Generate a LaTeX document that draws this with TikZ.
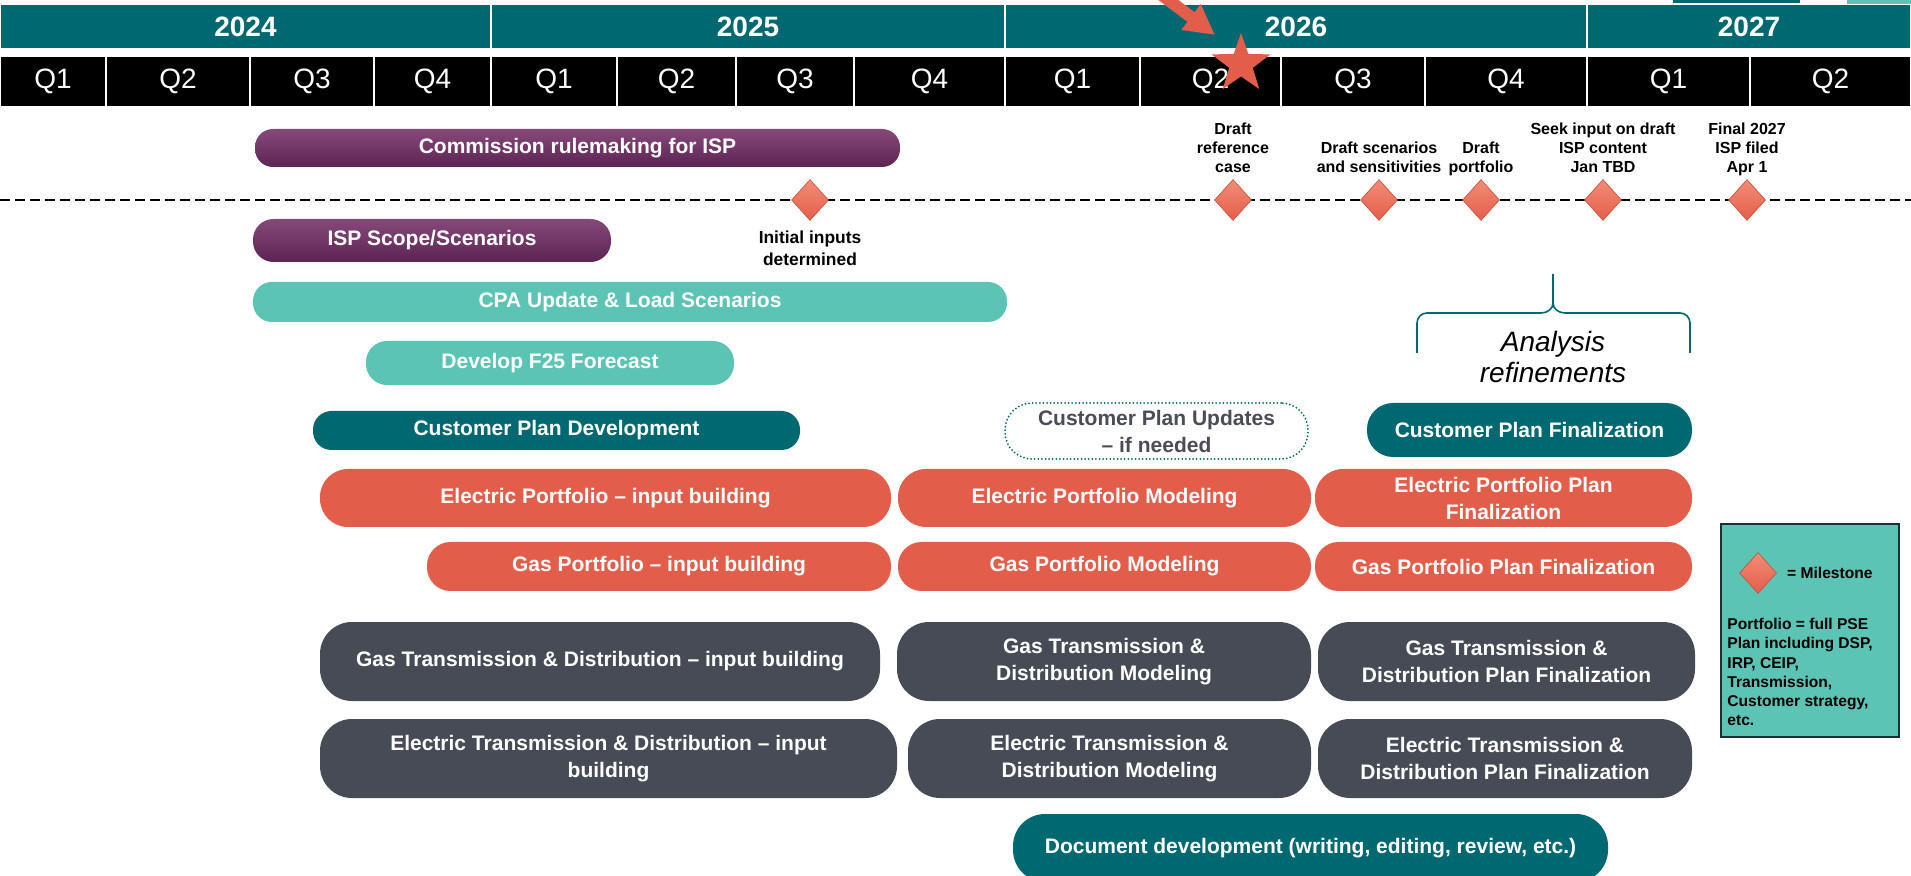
\documentclass[tikz,border=0pt]{standalone}
\usepackage{fontspec}
\setmainfont{Liberation Sans}
\usetikzlibrary{positioning,shapes.geometric,arrows.meta}

\definecolor{pseteal}{RGB}{0,104,113}
\definecolor{psepurple}{RGB}{92,35,82}
\definecolor{psepurplelt}{RGB}{134,74,122}
\definecolor{psemint}{RGB}{91,196,180}
\definecolor{psecoral}{RGB}{227,94,74}
\definecolor{mslight}{RGB}{243,140,118}
\definecolor{psegray}{RGB}{71,75,86}
\definecolor{psetext}{RGB}{74,77,87}
\definecolor{legendline}{RGB}{22,50,55}

\newcommand\unitpx{0.5pt}
\newcommand\barfnt{\bfseries\fontsize{10.5}{13.5}\selectfont}

\begin{document}
\begin{tikzpicture}[x=0.5pt, y=-0.5pt,
  yearcell/.style = {draw=white, line width=1pt, fill=pseteal, text=white, font=\bfseries\fontsize{14}{16}\selectfont, minimum height=45*\unitpx, inner sep=0pt},
  qcell/.style = {draw=white, line width=1pt, fill=black, text=white, font=\fontsize{14}{16}\selectfont, minimum height=51*\unitpx, inner sep=0pt},
  bar/.style 2 args = {minimum width=#1*\unitpx, minimum height=#2*\unitpx, rounded corners={min(#2/2-1,32)*\unitpx}, text=white, font=\barfnt, align=center, inner sep=0pt},
  purplebar/.style = {top color=psepurplelt, middle color=psepurple, bottom color=psepurple},
  mintbar/.style = {fill=psemint},
  tealbar/.style = {fill=pseteal},
  coralbar/.style = {fill=psecoral},
  graybar/.style = {fill=psegray},
  updbar/.style = {draw=pseteal, line width=1pt, dash pattern=on 0pt off 1.8pt, line cap=round, fill=white, text=psetext},
  timeline/.style = {line width=1.3pt, dash pattern=on 5pt off 2.5pt},
  milestone/.style = {diamond, minimum width=37*\unitpx, minimum height=41*\unitpx, inner sep=0pt, top color=mslight, bottom color=psecoral, draw=psecoral!85!black, line width=0.3pt},
  msnote/.style = {font=\bfseries\fontsize{8}{9.5}\selectfont, align=center, inner sep=0pt, text depth=0pt},
  legendbox/.style = {draw=legendline, line width=1.2pt, fill=psemint, inner sep=0pt},
  legendtxt/.style = {font=\bfseries\fontsize{7.8}{9.6}\selectfont, inner sep=0pt},
  pointer/.style = {psecoral, line width=6pt, -{Triangle[length=15pt, width=15pt]}}]

\path[use as bounding box, fill=white] (0,0) rectangle (1911,876);

% years and quarters
\node[yearcell, minimum width=491*\unitpx] (y2024) at (245.5,26.5) {2024};
\node[yearcell, minimum width=514*\unitpx] (y2025) at (748,26.5) {2025};
\node[yearcell, minimum width=582*\unitpx] (y2026) at (1296,26.5) {2026};
\node[yearcell, minimum width=324*\unitpx] (y2027) at (1749,26.5) {2027};

\node[qcell, minimum width=106*\unitpx] (q1a) at (53,81.5) {Q1};
\node[qcell, minimum width=144*\unitpx] (q2a) at (178,81.5) {Q2};
\node[qcell, minimum width=124*\unitpx] (q3a) at (312,81.5) {Q3};
\node[qcell, minimum width=117*\unitpx] (q4a) at (432.5,81.5) {Q4};
\node[qcell, minimum width=126*\unitpx] (q1b) at (554,81.5) {Q1};
\node[qcell, minimum width=119*\unitpx] (q2b) at (676.5,81.5) {Q2};
\node[qcell, minimum width=118*\unitpx] (q3b) at (795,81.5) {Q3};
\node[qcell, minimum width=151*\unitpx] (q4b) at (929.5,81.5) {Q4};
\node[qcell, minimum width=135*\unitpx] (q1c) at (1072.5,81.5) {Q1};
\node[qcell, minimum width=141*\unitpx] (q2c) at (1210.5,81.5) {Q2};
\node[qcell, minimum width=144*\unitpx] (q3c) at (1353,81.5) {Q3};
\node[qcell, minimum width=162*\unitpx] (q4c) at (1506,81.5) {Q4};
\node[qcell, minimum width=163*\unitpx] (q1d) at (1668.5,81.5) {Q1};
\node[qcell, minimum width=161*\unitpx] (q2d) at (1830.5,81.5) {Q2};

\fill[pseteal] (1673,0) rectangle (1800,3);
\fill[psemint] (1847,0) rectangle (1911,4);

% milestone line
\coordinate (tlstart) at (0,200);
\coordinate (tlend) at (1911,200);
\draw[timeline] (tlstart) -- (tlend);

\node[milestone] (m1) at (810,200) {};
\node[milestone] (m2) at (1233,200) {};
\node[milestone] (m3) at (1379,200) {};
\node[milestone] (m4) at (1481,200) {};
\node[milestone] (m5) at (1603,200) {};
\node[milestone] (m6) at (1747,200) {};

\node[msnote, below=5pt of m1, font=\bfseries\fontsize{8.7}{11}\selectfont] (m1txt) {Initial inputs\\determined};
\node[msnote, above=3pt of m2] (m2txt) {Draft\\reference\\case};
\node[msnote, above=3pt of m3] (m3txt) {Draft scenarios\\and sensitivities};
\node[msnote, above=3pt of m4] (m4txt) {Draft\\portfolio};
\node[msnote, above=3pt of m5] (m5txt) {Seek input on draft\\ISP content\\Jan TBD};
\node[msnote, above=3pt of m6] (m6txt) {Final 2027\\ISP filed\\Apr 1};

% work streams
\node[bar={645}{38}, purplebar] (commission) at (577.5,148) {Commission rulemaking for ISP};
\node[bar={358}{43}, purplebar] (ispscope) at (432,240.5) {ISP Scope/Scenarios};
\node[bar={754}{40}, mintbar] (cpa) at (630,302) {CPA Update \& Load Scenarios};
\node[bar={368}{44}, mintbar] (f25) at (550,363) {Develop F25 Forecast};
\node[bar={487}{39}, tealbar] (cpdev) at (556.5,430.5) {Customer Plan Development};
\node[bar={303}{56}, updbar] (cpupd) at (1156.5,431) {Customer Plan Updates\\-- if needed};
\node[bar={325}{54}, tealbar] (cpfin) at (1529.5,430) {Customer Plan Finalization};

\node[bar={571}{58}, coralbar] (epin) at (605.5,498) {Electric Portfolio -- input building};
\node[bar={413}{58}, coralbar] (epmod) at (1104.5,498) {Electric Portfolio Modeling};
\node[bar={377}{58}, coralbar] (epfin) at (1503.5,498) {Electric Portfolio Plan\\Finalization};
\node[bar={464}{49}, coralbar] (gpin) at (659,566.5) {Gas Portfolio -- input building};
\node[bar={413}{49}, coralbar] (gpmod) at (1104.5,566.5) {Gas Portfolio Modeling};
\node[bar={377}{49}, coralbar] (gpfin) at (1503.5,566.5) {Gas Portfolio Plan Finalization};

\node[bar={560}{79}, graybar] (gtdin) at (600,661.5) {Gas Transmission \& Distribution -- input building};
\node[bar={414}{79}, graybar] (gtdmod) at (1104,661.5) {Gas Transmission \&\\Distribution Modeling};
\node[bar={377}{79}, graybar] (gtdfin) at (1506.5,661.5) {Gas Transmission \&\\Distribution Plan Finalization};
\node[bar={577}{79}, graybar] (etdin) at (608.5,758.5) {Electric Transmission \& Distribution -- input\\building};
\node[bar={403}{79}, graybar] (etdmod) at (1109.5,758.5) {Electric Transmission \&\\Distribution Modeling};
\node[bar={374}{79}, graybar] (etdfin) at (1505,758.5) {Electric Transmission \&\\Distribution Plan Finalization};

\node[bar={595}{68}, tealbar] (docdev) at (1310.5,848) {Document development (writing, editing, review, etc.)};

% analysis brace
\draw[pseteal, line width=0.8pt] (1417,353) -- (1417,323) to[out=90,in=180] (1427,313) -- (1541,313) to[out=0,in=-90] (1553,303) -- (1553,274);
\draw[pseteal, line width=0.8pt] (1690,353) -- (1690,323) to[out=90,in=0] (1680,313) -- (1565,313) to[out=180,in=-90] (1553,303);
\node[font=\itshape\fontsize{14}{15.5}\selectfont, align=center, inner sep=0pt] (refine) at (1553,357) {Analysis\\refinements};

% legend
\node[legendbox, minimum width=178*\unitpx, minimum height=213*\unitpx] (legend) at (1810,630.5) {};
\node[milestone] (lgdm) at (1758,573) {};
\node[legendtxt, right=5pt of lgdm] (lgms) {= Milestone};
\node[legendtxt, anchor=north west, align=left] (lgnote) at (1727,618) {Portfolio = full PSE\\Plan including DSP,\\IRP, CEIP,\\Transmission,\\Customer strategy,\\etc.};

% star and pointer
\node[star, star points=5, star point ratio=2.5, fill=psecoral, minimum size=62*\unitpx, inner sep=0pt] (star) at (1241,64) {};
\coordinate (arrowtail) at (1151,-13);
\coordinate (arrowtip) at (1215,35);
\draw[pointer] (arrowtail) -- (arrowtip);
\end{tikzpicture}
\end{document}
